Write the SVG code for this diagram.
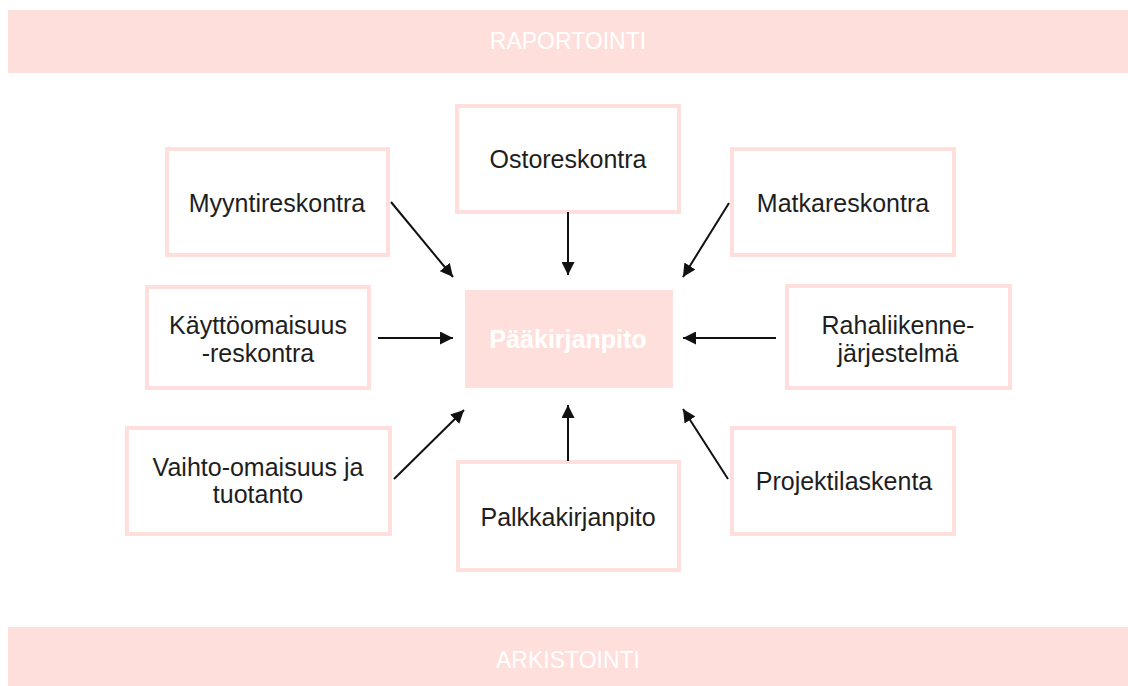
<svg xmlns="http://www.w3.org/2000/svg" width="1128" height="686" viewBox="0 0 1128 686">
<style>
.bar{fill:#FFDFDC}
.box{fill:#fff;stroke:#FFDFDC;stroke-width:4}
.main{fill:#FFDFDC}
.t{font-family:"Liberation Sans",Arial,Helvetica,sans-serif;font-size:25px;fill:#1e1e1e;text-anchor:middle}
.w{font-family:"Liberation Sans",Arial,Helvetica,sans-serif;fill:#fff;text-anchor:middle}
.c{stroke:#111;stroke-width:2;fill:none;marker-end:url(#ah)}
</style>
<defs>
<marker id="ah" viewBox="0 0 10 10" refX="10" refY="5" markerWidth="6.5" markerHeight="6.5" markerUnits="strokeWidth" orient="auto">
<path d="M0,0 L10,5 L0,10 z" fill="#111"/>
</marker>
</defs>
<rect width="1128" height="686" fill="#fff"/>
<g id="raportointi">
<rect class="bar" x="8" y="10" width="1120" height="63"/>
<text class="w" x="568" y="49" font-size="23">RAPORTOINTI</text>
</g>
<g id="arkistointi">
<rect class="bar" x="8" y="627" width="1120" height="59"/>
<text class="w" x="568" y="668" font-size="23">ARKISTOINTI</text>
</g>
<g id="paakirjanpito">
<rect class="main" x="465" y="290" width="208" height="98"/>
<text class="w" x="568" y="348" font-size="25" font-weight="bold">Pääkirjanpito</text>
</g>
<g id="myyntireskontra">
<rect class="box" x="167" y="149" width="221" height="106"/>
<text class="t" x="277" y="212">Myyntireskontra</text>
</g>
<g id="ostoreskontra">
<rect class="box" x="457" y="106" width="222" height="106"/>
<text class="t" x="568" y="168">Ostoreskontra</text>
</g>
<g id="matkareskontra">
<rect class="box" x="732" y="149" width="222" height="106"/>
<text class="t" x="843" y="212">Matkareskontra</text>
</g>
<g id="kayttoomaisuus">
<rect class="box" x="147" y="287" width="222" height="101"/>
<text class="t" x="258" y="334">Käyttöomaisuus</text>
<text class="t" x="258" y="362">-reskontra</text>
</g>
<g id="rahaliikenne">
<rect class="box" x="787" y="286" width="223" height="102"/>
<text class="t" x="898" y="334">Rahaliikenne-</text>
<text class="t" x="898" y="362">järjestelmä</text>
</g>
<g id="vaihto-omaisuus">
<rect class="box" x="127" y="428" width="263" height="106"/>
<text class="t" x="258" y="476">Vaihto-omaisuus ja</text>
<text class="t" x="258" y="503">tuotanto</text>
</g>
<g id="palkkakirjanpito">
<rect class="box" x="458" y="462" width="221" height="108"/>
<text class="t" x="568" y="526">Palkkakirjanpito</text>
</g>
<g id="projektilaskenta">
<rect class="box" x="732" y="428" width="222" height="106"/>
<text class="t" x="844" y="490">Projektilaskenta</text>
</g>
<g id="connectors">
<line class="c" x1="391" y1="202" x2="453" y2="277"/>
<line class="c" x1="568" y1="212" x2="568" y2="275"/>
<line class="c" x1="729" y1="203" x2="683" y2="277"/>
<line class="c" x1="378" y1="338" x2="453" y2="338"/>
<line class="c" x1="776" y1="338" x2="683" y2="338"/>
<line class="c" x1="394" y1="479" x2="464" y2="410"/>
<line class="c" x1="568" y1="461" x2="568" y2="405"/>
<line class="c" x1="728" y1="479" x2="683" y2="409"/>
</g>
</svg>
